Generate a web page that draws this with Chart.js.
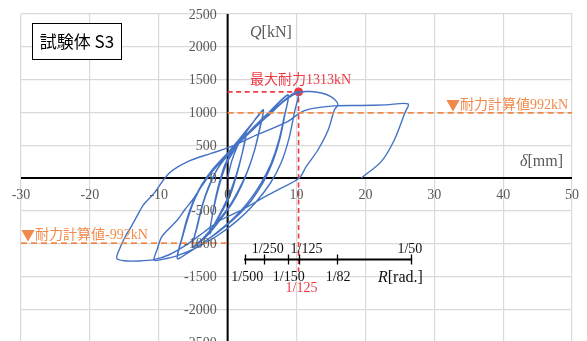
<!DOCTYPE html>
<html>
<head>
<meta charset="utf-8">
<script src="https://cdn.jsdelivr.net/npm/chart.js@4/dist/chart.umd.min.js"></script>
<style>
  html, body { margin: 0; padding: 0; background: #fff; overflow: hidden; width: 587px; height: 341px; }
  canvas { display: block; }
</style>
</head>
<body>
<canvas id="c" width="587" height="350" style="width:587px;height:350px"></canvas>
<script>
// Load–displacement hysteresis of specimen S3 (δ in mm, Q in kN)
const deltaMm = [
  0, 0.6, 1.4, 2.1, 2.7,
  2.4, 1.9, 1.3, 0.5, -0.5, -1.5, -2.6,
  -2.2, -1.7, -1.1, -0.4, 0.6, 1.6, 2.7,
  2.4, 1.8, 1.1, 0.2, -0.9, -1.8, -2.6,
  -2.2, -1.6, -0.9, -0.1,
  1.0, 2.3, 3.5, 4.4, 5.2,
  4.7, 4.0, 3.1, 2.0, 0.7, -0.8, -2.3, -3.8, -5.1,
  -4.5, -3.7, -2.8, -1.6, -0.2, 1.6, 3.3, 4.4, 5.2,
  4.7, 3.9, 2.9, 1.7, 0.3, -1.3, -2.9, -4.1, -5.1,
  -4.4, -3.6, -2.6, -1.4,
  0.3, 2.2, 4.0, 5.8, 7.4, 8.8,
  8.3, 7.6, 6.6, 5.2, 3.4, 1.2, -1.3, -3.6, -5.6, -7.3,
  -6.6, -5.9, -5.0, -3.8, -2.2, -0.2, 2.2, 4.6, 6.9, 8.8,
  8.2, 7.4, 6.3, 4.8, 2.9, 0.7, -1.8, -4.0, -5.9, -7.3,
  -6.5, -5.7, -4.8, -3.6, -2.0,
  0.1, 2.5, 5.0, 7.3, 9.0, 10.3,
  9.7, 8.9, 7.8, 6.2, 4.0, 1.4, -1.5, -4.5, -7.5, -9.5, -10.7,
  -10.2, -9.6, -8.5, -7.3, -6.2, -5.1, -3.6, -1.8, 0.5, 3.2, 5.8, 8.2, 10.3,
  12.0, 13.6, 15.0, 15.8, 16.0,
  15.5, 14.6, 13.1, 11.4, 10.4, 7.5, 5.0, 2.0, -1.0, -3.5, -6.0, -8.5, -10.7, -13.0, -15.0, -16.1,
  -15.6, -14.8, -14.0, -13.2, -12.3, -10.7, -8.5, -5.8, -2.4, 0.5, 4.3, 8.7, 10.7, 12.6, 15.5, 19.4, 23.0, 26.2,
  25.7, 24.2, 22.3, 19.4
];
const loadKN = [
  0, 260, 480, 620, 705,
  520, 280, 40, -230, -450, -640, -840,
  -560, -280, -30, 200, 400, 570, 700,
  500, 250, 0, -260, -500, -680, -850,
  -560, -270, 0, 230,
  430, 640, 820, 950, 1040,
  780, 460, 160, -120, -380, -600, -800, -960, -1050,
  -760, -420, -140, 120, 350, 580, 800, 940, 1035,
  760, 420, 110, -160, -420, -640, -840, -970, -1045,
  -740, -400, -110, 150,
  380, 600, 800, 980, 1150, 1265,
  960, 600, 260, -60, -350, -600, -820, -990, -1130, -1225,
  -900, -620, -360, -110, 130, 360, 600, 860, 1090, 1260,
  930, 560, 220, -90, -380, -630, -850, -1020, -1150, -1228,
  -880, -590, -330, -90, 150,
  380, 620, 870, 1100, 1250, 1313,
  1000, 600, 240, -80, -380, -650, -880, -1060, -1190, -1240, -1255,
  -1080, -900, -770, -640, -480, -335, -100, 150, 420, 700, 940, 1170, 1305,
  1318, 1295, 1240, 1168, 1113,
  1037, 732, 427, 172, 0, -170, -310, -490, -640, -830, -1020, -1170, -1245, -1265, -1262, -1225,
  -1060, -880, -740, -590, -420, -234, 72, 250, 376, 477, 660, 860, 1005, 1065, 1100, 1105, 1115, 1130,
  985, 580, 250, 0
];

// Axis ticks
const xTicks = [-30, -20, -10, 0, 10, 20, 30, 40, 50];
const yTicks = [2500, 2000, 1500, 1000, 500, 0, -500, -1000, -1500, -2000, -2500];

// Drift-angle scale: label and the displacement (mm) it corresponds to
const rLabelsAbove = ['1/250', '1/125', '1/50'];
const rMmAbove = [5.24, 10.3, 26.6];
const rLabelsBelow = ['1/500', '1/150', '1/82'];
const rMmBelow = [2.56, 8.73, 15.9];

// Key values
const maxLoad = 1313;       // 最大耐力
const maxLoadDelta = 10.3;  // δ at 最大耐力
const calcLoad = 992;       // 耐力計算値

const BLUE = '#4472C4';
const RED = '#EE3B45';
const ORANGE = '#EF8A4C';
const GRAY = '#595959';
const SERIF = '"Liberation Serif", "Times New Roman", serif';
const JP = '"Liberation Serif", "Noto Sans CJK JP", serif';
const CJK = '"Noto Sans CJK JP", sans-serif';

const curve = deltaMm.map((d, i) => ({ x: d, y: loadKN[i] }));

const overlay = {
  id: 'overlay',
  beforeDatasetsDraw(chart) {
    const { ctx, chartArea: a, scales: { x, y } } = chart;
    const x0 = x.getPixelForValue(0), y0 = y.getPixelForValue(0);
    ctx.save();
    ctx.strokeStyle = '#000';
    ctx.lineWidth = 2;
    ctx.beginPath();
    ctx.moveTo(a.left, y0); ctx.lineTo(a.right, y0);
    ctx.moveTo(x0, a.top); ctx.lineTo(x0, a.bottom);
    ctx.stroke();
    ctx.restore();
  },
  afterDatasetsDraw(chart) {
    const { ctx, scales: { x, y } } = chart;
    const x0 = x.getPixelForValue(0), y0 = y.getPixelForValue(0);
    ctx.save();

    // tick labels
    ctx.fillStyle = GRAY;
    ctx.font = '14px ' + SERIF;
    ctx.textBaseline = 'middle';
    ctx.textAlign = 'center';
    xTicks.forEach(v => ctx.fillText(String(v), x.getPixelForValue(v), y0 + 17));
    ctx.textAlign = 'right';
    yTicks.forEach(v => ctx.fillText(String(v), x0 - 11, y.getPixelForValue(v) + 1));

    // text made of runs in different fonts, drawn from a left edge
    const runs = (parts, left, cy, color) => {
      ctx.textAlign = 'left';
      ctx.fillStyle = color;
      let cx = left;
      parts.forEach(([txt, font]) => {
        ctx.font = font;
        ctx.fillText(txt, cx, cy);
        cx += ctx.measureText(txt).width;
      });
      return cx - left;
    };
    const runsWidth = parts => parts.reduce((w, [txt, font]) => {
      ctx.font = font; return w + ctx.measureText(txt).width;
    }, 0);
    const it = '  italic 16px ' + SERIF, rm = '16px ' + SERIF;
    runs([['Q', it], ['[kN]', rm]], 250, 33, GRAY);
    runs([['δ', it], ['[mm]', rm]], 520, 162, GRAY);

    // maximum strength label
    runs([['最大耐力' + maxLoad + 'kN', '14px ' + JP]], 250, 80, RED);

    // calculated strength labels
    const posLabel = [['▼', '14px ' + CJK], ['耐力計算値' + calcLoad + 'kN', '14px ' + JP]];
    runs(posLabel, 568 - runsWidth(posLabel), y.getPixelForValue(calcLoad) - 8, ORANGE);
    const negLabel = [['▼', '14px ' + CJK], ['耐力計算値-' + calcLoad + 'kN', '14px ' + JP]];
    runs(negLabel, 21, y.getPixelForValue(-calcLoad) - 8, ORANGE);

    // drift-angle scale
    const ry = 259.5;
    ctx.strokeStyle = '#000';
    ctx.lineWidth = 2;
    ctx.beginPath();
    ctx.moveTo(x.getPixelForValue(2.4), ry);
    ctx.lineTo(x.getPixelForValue(26.8), ry);
    ctx.stroke();
    ctx.lineWidth = 1.3;
    ctx.beginPath();
    rMmAbove.concat(rMmBelow).forEach(m => {
      const px = Math.round(x.getPixelForValue(m)) + 0.5;
      ctx.moveTo(px, ry - 5); ctx.lineTo(px, ry + 5);
    });
    ctx.stroke();
    ctx.fillStyle = '#111';
    ctx.font = '14px ' + SERIF;
    ctx.textAlign = 'center';
    const aboveShift = [4, 8, -1];
    rLabelsAbove.forEach((t, i) => ctx.fillText(t, x.getPixelForValue(rMmAbove[i]) + aboveShift[i], ry - 10));
    const belowShift = [2, 1, 1];
    rLabelsBelow.forEach((t, i) => ctx.fillText(t, x.getPixelForValue(rMmBelow[i]) + belowShift[i], ry + 18));
    ctx.fillStyle = RED;
    ctx.fillText('1/125', x.getPixelForValue(maxLoadDelta) + 3, ry + 29);
    runs([['R', it], ['[rad.]', rm]], 378, 278, '#111');

    // specimen box
    ctx.fillStyle = '#fff';
    ctx.fillRect(32, 23.5, 90, 36);
    ctx.strokeStyle = '#000';
    ctx.lineWidth = 1;
    ctx.strokeRect(32.5, 23.5, 89, 36);
    ctx.fillStyle = '#000';
    ctx.font = '17px ' + CJK;
    ctx.textAlign = 'center';
    ctx.fillText('試験体 S3', 77, 42);

    ctx.restore();
  }
};

new Chart(document.getElementById('c'), {
  type: 'scatter',
  data: {
    datasets: [
      {
        data: [{ x: 0, y: calcLoad }, { x: 50, y: calcLoad }],
        showLine: true, borderColor: ORANGE, borderWidth: 1.6, borderDash: [6, 4],
        pointRadius: 0
      },
      {
        data: [{ x: -30, y: -calcLoad }, { x: 0, y: -calcLoad }],
        showLine: true, borderColor: ORANGE, borderWidth: 1.6, borderDash: [6, 4],
        pointRadius: 0
      },
      {
        data: curve,
        showLine: true, borderColor: BLUE, borderWidth: 1.4, tension: 0.3,
        pointRadius: 0
      },
      {
        data: [{ x: 0, y: maxLoad }, { x: maxLoadDelta, y: maxLoad }, { x: maxLoadDelta, y: -1430 }],
        showLine: true, borderColor: RED, borderWidth: 1.6, borderDash: [5, 3.5],
        pointRadius: 0
      },
      {
        data: [{ x: maxLoadDelta, y: maxLoad }],
        showLine: false, pointRadius: 4, backgroundColor: RED, borderColor: RED
      }
    ]
  },
  options: {
    responsive: false,
    animation: false,
    events: [],
    layout: { padding: { left: 21, right: 15, top: 14, bottom: 8 } },
    plugins: { legend: { display: false }, tooltip: { enabled: false } },
    scales: {
      x: {
        type: 'linear', min: -30, max: 50,
        ticks: { stepSize: 10, display: false },
        grid: { color: '#d9d9d9', lineWidth: 1.2, drawTicks: false },
        border: { display: false },
        afterFit(s) { s.height = 0; }
      },
      y: {
        type: 'linear', min: -2500, max: 2500,
        ticks: { stepSize: 500, display: false },
        grid: { color: '#d9d9d9', lineWidth: 1.2, drawTicks: false },
        border: { display: false },
        afterFit(s) { s.width = 0; }
      }
    }
  },
  plugins: [overlay]
});
</script>
</body>
</html>
